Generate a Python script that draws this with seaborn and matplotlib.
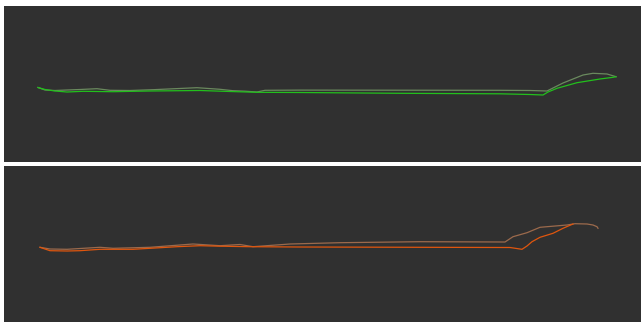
import numpy as np
import pandas as pd
import seaborn as sns
import matplotlib
matplotlib.use("Agg")
from matplotlib import pyplot

# trajectory points (x right, y down), two passes per panel
top_out_x = [38, 45, 55, 67, 83, 113, 150, 200, 230, 257, 300, 400, 500, 530, 543,
             548, 557, 577, 600, 613, 616]
top_out_y = [87.5, 89.5, 91, 92, 91.3, 91.7, 91, 90.5, 91.5, 92.3, 92.5, 93.3, 93.8, 94.5, 95,
             92, 88.3, 82.7, 79, 77.3, 76.7]
top_back_x = [616, 607, 593, 583, 563, 547, 530, 500, 400, 300, 265, 257, 245, 233, 220,
              197, 153, 130, 110, 97, 80, 67, 55, 45, 38]
top_back_y = [76.7, 74, 73.3, 75, 83, 91, 90.5, 90.3, 90.2, 90.1, 90.3, 92, 91.2, 90.7, 89.3,
              87.7, 89.7, 90.5, 90.3, 88.7, 89.5, 90, 90.5, 90, 87.5]

bot_out_x = [40, 50, 67, 80, 100, 133, 150, 177, 200, 220, 250, 300, 420, 510, 522,
             527, 532, 540, 553, 563, 573]
bot_out_y = [247.3, 250.7, 251, 250.7, 249.3, 249.3, 248.3, 246.7, 245.7, 246.2, 246.7, 247, 247.3, 247.5, 249.3,
             246, 241.7, 237.3, 233.3, 228.3, 224]
bot_back_x = [598, 597, 593, 587, 575, 567, 540, 527, 513, 505, 420, 340, 290, 253, 240,
              220, 193, 150, 113, 100, 67, 50, 40]
bot_back_y = [228.3, 226.7, 225, 224, 223.7, 225, 227.3, 232.7, 236.7, 242, 241.7, 242.7, 244, 246.7, 244.5,
              245.7, 244, 247.3, 248.3, 247.3, 249.3, 249, 247.3]

W, H = 641, 323
fig = pyplot.figure(figsize=(W / 100, H / 100), dpi=100, facecolor='white')
ax1 = fig.add_axes([4 / W, (H - 162) / H, (W - 4) / W, 156 / H])
ax2 = fig.add_axes([4 / W, (H - 322) / H, (W - 4) / W, 156 / H])

panels = [
    (ax1, top_out_x, top_out_y, top_back_x, top_back_y, '#22c01c', '#6a8a5e', (162, 6)),
    (ax2, bot_out_x, bot_out_y, bot_back_x, bot_back_y, '#e0560e', '#9c6a4c', (322, 166)),
]
for ax, ox, oy, bx, by, c1, c2, ylim in panels:
    out = pd.DataFrame({'x': ox, 'y': oy})
    back = pd.DataFrame({'x': bx, 'y': by})
    sns.lineplot(data=back, x='x', y='y', sort=False, estimator=None, color=c2, lw=0.9, ax=ax)
    sns.lineplot(data=out, x='x', y='y', sort=False, estimator=None, color=c1, lw=0.9, ax=ax)
    ax.set_facecolor('#303030')
    ax.set_xlim(4, 641)
    ax.set_ylim(*ylim)
    ax.set_xticks([])
    ax.set_yticks([])
    ax.set_xlabel('')
    ax.set_ylabel('')
    for s in ax.spines.values():
        s.set_visible(False)

fig.savefig('out.png', dpi=100, facecolor='white')
